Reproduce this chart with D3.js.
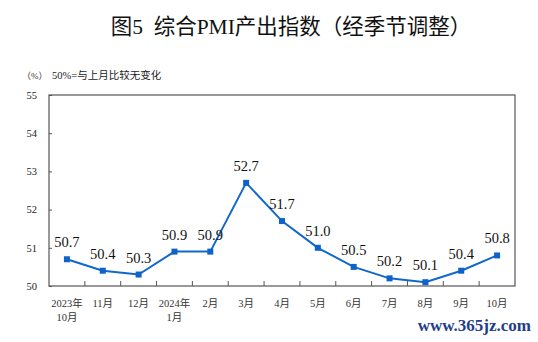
<!DOCTYPE html>
<html><head><meta charset="utf-8">
<script src="https://cdn.jsdelivr.net/npm/d3@7/dist/d3.min.js"></script>
<style>body{margin:0;background:#fff;} svg{display:block;}</style>
</head><body>
<script>
const months = ["2023年\n10月","11月","12月","2024年\n1月","2月","3月","4月","5月","6月","7月","8月","9月","10月"];
const values = [50.7,50.4,50.3,50.9,50.9,52.7,51.7,51.0,50.5,50.2,50.1,50.4,50.8];
const yTicks = [50,51,52,53,54,55];
const titleText = "图5  综合PMI产出指数（经季节调整）";
const unitText = "（%）";
const noteText = "50%=与上月比较无变化";

const W=538,H=342;
const m={l:49,r:515,t:95,b:286};
const svg=d3.select("body").append("svg").attr("width",W).attr("height",H);
const serif='"Liberation Serif","Times New Roman","Noto Sans CJK SC",serif';

svg.append("text").attr("x",291).attr("y",34).attr("text-anchor","middle")
  .attr("font-family",serif).attr("font-size",21.5).attr("font-weight","normal").attr("fill","#111")
  .style("white-space","pre").text(titleText);
svg.append("text").attr("x",22).attr("y",79).attr("font-family",serif).attr("font-size",9).attr("fill","#333").text(unitText);
svg.append("text").attr("x",52).attr("y",79).attr("font-family",serif).attr("font-size",10.5).attr("fill","#222").text(noteText);

const x=d3.scaleBand().domain(months.map((d,i)=>i)).range([m.l,m.r]);
const y=d3.scaleLinear().domain([50,55]).range([m.b,m.t]);

// frame
svg.append("rect").attr("x",m.l).attr("y",m.t).attr("width",m.r-m.l).attr("height",m.b-m.t)
  .attr("fill","none").attr("stroke","#555").attr("stroke-width",1.2);

// y axis
const ya=svg.append("g").attr("transform",`translate(${m.l},0)`)
  .call(d3.axisLeft(y).tickValues(yTicks).tickFormat(d3.format("d")).tickSize(-3).tickPadding(12));
ya.select(".domain").remove();
ya.selectAll("line").attr("stroke","#555");
ya.selectAll("text").attr("font-family",serif).attr("font-size",10.5).attr("fill","#222");

// x axis ticks (inward, at band boundaries)
const bounds=d3.range(1,months.length).map(i=>x(i));
svg.append("g").selectAll("line").data(bounds).join("line")
  .attr("x1",d=>d).attr("x2",d=>d).attr("y1",m.b).attr("y2",m.b-5).attr("stroke","#555").attr("stroke-width",1);

// x labels
const xl=svg.append("g").selectAll("text").data(months).join("text")
  .attr("x",(d,i)=>x(i)+x.bandwidth()/2).attr("y",307).attr("text-anchor","middle")
  .attr("font-family",serif).attr("font-size",10.5).attr("fill","#333");
xl.each(function(d){
  const t=d3.select(this);
  d.split("\n").forEach((s,k)=>t.append("tspan").attr("x",t.attr("x")).attr("dy",k?13.5:0).text(s));
});

// line
const cx=(d,i)=>x(i)+x.bandwidth()/2;
svg.append("path").datum(values).attr("fill","none").attr("stroke","#1167cc").attr("stroke-width",2)
  .attr("d",d3.line().x(cx).y(d=>y(d)));
svg.append("g").selectAll("rect").data(values).join("rect")
  .attr("x",(d,i)=>cx(d,i)-3).attr("y",d=>y(d)-3).attr("width",6).attr("height",6).attr("fill","#0f62c9");

// labels
svg.append("g").selectAll("text").data(values).join("text")
  .attr("x",cx).attr("y",d=>y(d)-12).attr("text-anchor","middle")
  .attr("font-family",serif).attr("font-size",14.5).attr("fill","#111")
  .text(d=>d.toFixed(1));

// watermark
svg.append("text").attr("x",531).attr("y",331).attr("text-anchor","end")
  .attr("font-family",serif).attr("font-size",17).attr("font-weight","bold").attr("fill","#1f3f8a")
  .text("www.365jz.com");
</script>
</body></html>
